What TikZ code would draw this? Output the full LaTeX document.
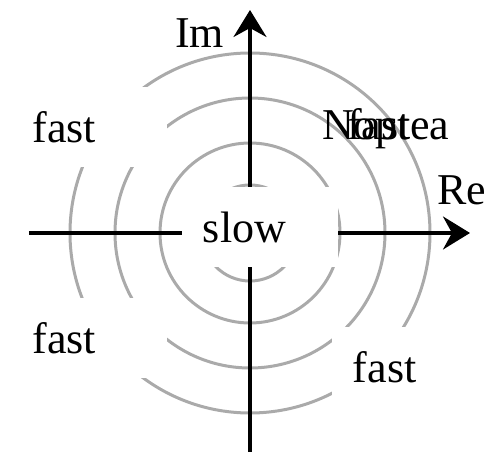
\documentclass[tikz,border=0pt]{standalone}
\usepackage{fontspec}
\setmainfont{Liberation Serif}
\usetikzlibrary{arrows.meta}
\definecolor{ringgray}{RGB}{170,170,170}
\tikzset{
  ring/.style={draw=ringgray, line width=3pt},
  axis/.style={line width=3.5pt, -{Stealth[length=27pt,width=33pt,inset=9pt]}},
  speedbox/.style={fill=white, text width=114pt, inner xsep=21pt, inner ysep=0pt,
    minimum height=80pt, align=left},
  word/.style={inner sep=0pt, anchor=base west}
}
\begin{document}
\begin{tikzpicture}[x=1pt, y=1pt, font=\fontsize{44}{50}\selectfont]
\useasboundingbox (-250,-219) rectangle (241,233);
\coordinate (O) at (0,0);
% rings around the origin
\foreach \r in {48,90,135,180}
  \draw[ring] (O) circle (\r);
% axes
\coordinate (xl) at (-221,0);
\coordinate (xr) at (220,0);
\coordinate (yb) at (0,-219);
\coordinate (yt) at (0,223);
\draw[axis] (xl) -- (xr);
\draw[axis] (yb) -- (yt);
\node[word] (im) at (-75,185) {Im};
\node[word] (re) at (187,28) {Re};
% regions
\node[speedbox] (slow) at (10,6) {slow};
\node[speedbox] (fastNW) at (-160.5,106) {fast};
\node[speedbox] (fastSW) at (-160.5,-105.5) {fast};
\node[speedbox] (fastSE) at (160,-134) {fast};
\node[word] (noptea) at (72,93) {Noptea};
\node[word] (fastNE) at (97,93) {fast};
\end{tikzpicture}
\end{document}
